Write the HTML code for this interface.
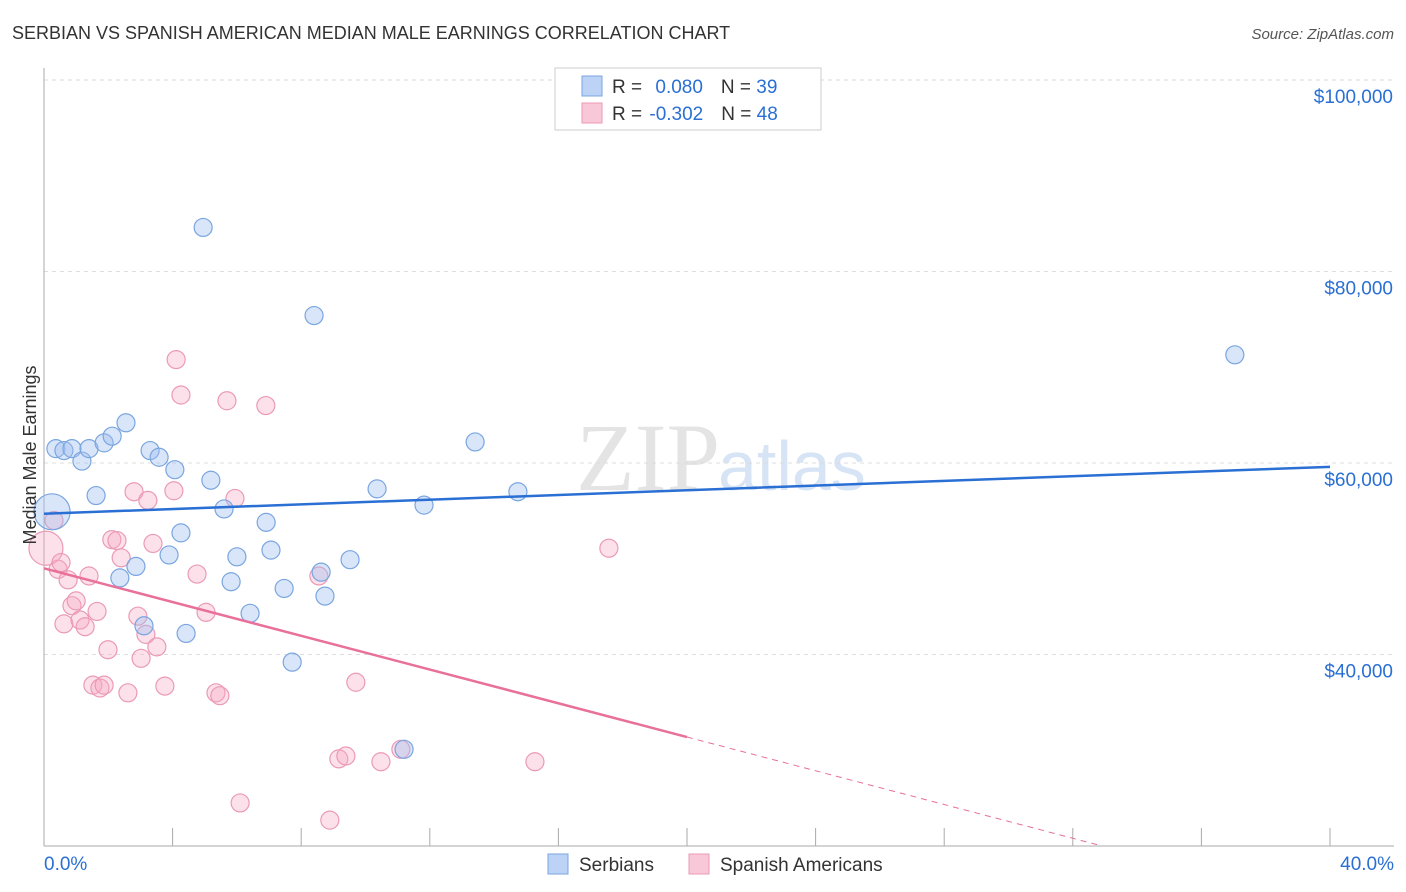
<!DOCTYPE html>
<html><head><meta charset="utf-8"><style>
body{margin:0;background:#fff;font-family:"Liberation Sans",sans-serif;}
svg{display:block}
</style></head><body>
<svg id="chart" width="1406" height="892">
<text x="12" y="39" font-size="18" fill="#333">SERBIAN VS SPANISH AMERICAN MEDIAN MALE EARNINGS CORRELATION CHART</text>
<text x="1394" y="39" font-size="15" fill="#555" font-style="italic" text-anchor="end">Source: ZipAtlas.com</text>
<text x="720" y="490" font-size="96" fill="#e4e4e4" text-anchor="end" font-family="Liberation Serif,serif">ZIP</text>
<text x="718" y="490" font-size="70" fill="#d6e4f5">atlas</text>
<g id="grid"></g><g id="axes"></g><g id="marks"></g>
<text x="36" y="455" font-size="18" fill="#333" text-anchor="middle" transform="rotate(-90 36 455)">Median Male Earnings</text>
<g>
<rect x="555" y="68" width="266" height="62" fill="#fff" stroke="#ccc"/>
<rect x="582" y="76" width="20" height="20" fill="#bcd3f5" stroke="#7aa6e0"/>
<rect x="582" y="103" width="20" height="20" fill="#f8c8d8" stroke="#eb9ab5"/>
<text x="612" y="93" font-size="19" fill="#333">R = <tspan fill="#2a6fd4" dx="8">0.080</tspan><tspan dx="18" fill="#333">N = </tspan><tspan fill="#2a6fd4">39</tspan></text>
<text x="612" y="120" font-size="19" fill="#333">R = <tspan fill="#2a6fd4" dx="2">-0.302</tspan><tspan dx="18" fill="#333">N = </tspan><tspan fill="#2a6fd4">48</tspan></text>
</g>
<g>
<rect x="548" y="854" width="20" height="20" fill="#bcd3f5" stroke="#7aa6e0"/>
<text x="579" y="871" font-size="19" fill="#333">Serbians</text>
<rect x="689" y="854" width="20" height="20" fill="#f8c8d8" stroke="#eb9ab5"/>
<text x="720" y="871" font-size="19" fill="#333">Spanish Americans</text>
</g>
</svg>
<script>
const xTicksPct=[0,40];
const yTicksK=[40,60,80,100];
const yTickLabels=["$40,000","$60,000","$80,000","$100,000"];
const serbX=[0.25,0.37,0.62,0.87,1.18,1.40,1.62,1.87,2.12,2.55,2.36,2.86,3.11,3.30,3.58,3.89,4.07,4.26,4.42,4.95,5.19,5.60,5.82,6.00,6.41,6.91,7.06,7.47,7.72,8.40,8.62,8.74,9.52,10.36,11.20,11.82,13.41,14.74,37.04];
const serbY=[54.9,61.5,61.3,61.5,60.2,61.5,56.6,62.1,62.8,64.2,48.0,49.2,43.0,61.3,60.6,50.4,59.3,52.7,42.2,84.6,58.2,55.2,47.6,50.2,44.3,53.8,50.9,46.9,39.2,75.4,48.6,46.1,49.9,57.3,30.1,55.6,62.2,57.0,71.3];
const spanX=[0.06,0.31,0.44,0.53,0.62,0.75,0.87,1.00,1.12,1.28,1.40,1.52,1.65,1.74,1.87,1.99,2.11,2.27,2.40,2.61,2.80,2.92,3.02,3.17,3.23,3.39,3.51,3.76,4.04,4.11,4.26,4.76,5.04,5.35,5.47,5.69,5.94,6.10,6.90,8.55,8.89,9.17,9.39,9.70,10.48,11.10,15.27,17.57];
const spanY=[51.1,54.0,48.9,49.6,43.2,47.8,45.1,45.6,43.6,42.9,48.2,36.8,44.5,36.5,36.8,40.5,52.0,51.9,50.1,36.0,57.0,44.0,39.6,42.1,56.1,51.6,40.8,36.7,57.1,70.8,67.1,48.4,44.4,36.0,35.7,66.5,56.3,24.5,66.0,48.2,22.7,29.1,29.4,37.1,28.8,30.1,28.8,51.1];
const serbTrend=[54.7,59.6]; // at x=0 and x=40
const spanTrend=[49.0,-0.881]; // intercept, slope per %
const X=p=>44+p*(1286/40), Y=k=>80+(100-k)*191.5/20;
const NS="http://www.w3.org/2000/svg";
function mk(parent,tag,attrs){const e=document.createElementNS(NS,tag);for(const k in attrs)e.setAttribute(k,attrs[k]);document.getElementById(parent).appendChild(e);return e;}
yTicksK.forEach((k,i)=>{
 const g=mk('grid','line',{x1:44,x2:1394,y1:Y(k),y2:Y(k),stroke:'#ddd','stroke-dasharray':'4,4'});
 
 
 const t=mk('grid','text',{x:1393,y:Y(k)+23,'font-size':19,fill:'#2a6fd4','text-anchor':'end'});
 t.textContent=yTickLabels[i];
 
 
});
const ax=mk('axes','line',{x1:44,x2:44,y1:68,y2:846,stroke:'#aaa'});


const bx=mk('axes','line',{x1:44,x2:1394,y1:846,y2:846,stroke:'#aaa'});


for(let i=0;i<=10;i++){const tk=mk('axes','line',{x1:X(i*4),x2:X(i*4),y1:828,y2:846,stroke:'#aaa'});
 
 }
xTicksPct.forEach((p,i)=>{const t=mk('axes','text',{x:i?1394:44,y:870,'font-size':19,fill:'#2a6fd4','text-anchor':i?'end':'start'});
 t.textContent=p.toFixed(1)+'%';
 
 });
spanX.forEach((x,i)=>{const c=mk('marks','circle',{cx:X(x),cy:Y(spanY[i]),r:i==0?17:9,fill:'rgba(245,170,195,0.35)',stroke:'#eb9ab5','stroke-width':1.2});
 
 });
serbX.forEach((x,i)=>{const c=mk('marks','circle',{cx:X(x),cy:Y(serbY[i]),r:i==0?18:9,fill:'rgba(160,190,240,0.4)',stroke:'#7aa6e0','stroke-width':1.2});
 
 });
const bl=mk('marks','line',{x1:X(0),y1:Y(serbTrend[0]),x2:X(40),y2:Y(serbTrend[1]),stroke:'#2a6fd4','stroke-width':2.5});


const pe=v=>spanTrend[0]+spanTrend[1]*v;
const pl=mk('marks','line',{x1:X(0),y1:Y(pe(0)),x2:X(20),y2:Y(pe(20)),stroke:'#e8709a','stroke-width':2.5});


const xEnd=(20.1-spanTrend[0])/spanTrend[1];
const pd=mk('marks','line',{x1:X(20),y1:Y(pe(20)),x2:X(xEnd),y2:Y(pe(xEnd)),stroke:'#e8709a','stroke-width':1,'stroke-dasharray':'6,5'});


</script>
</body></html>
